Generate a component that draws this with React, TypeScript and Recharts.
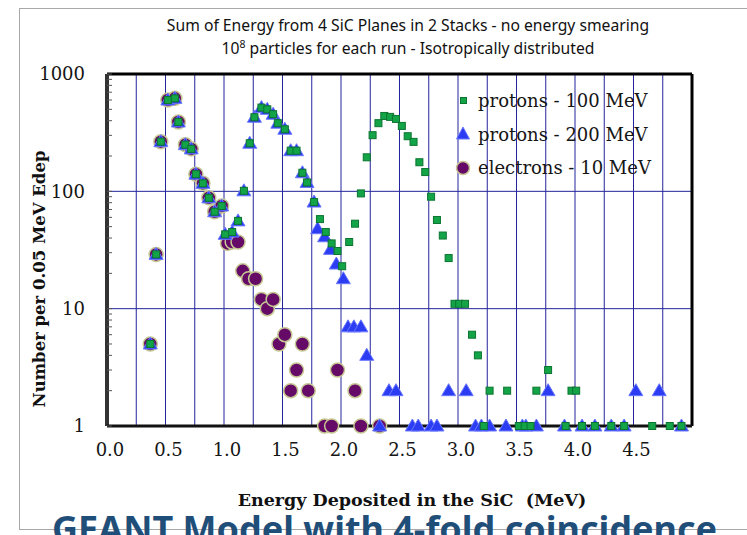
import React from 'react';
import { ScatterChart, Scatter, XAxis, YAxis, CartesianGrid, ReferenceLine, Legend } from 'recharts';

// ---- data (energy in MeV, counts per 0.05 MeV) ----
const protons100X = [0.37, 0.42, 0.46, 0.52, 0.58, 0.61, 0.67, 0.72, 0.76, 0.82, 0.87, 0.92, 0.98,
  1.01, 1.07, 1.12, 1.17, 1.22, 1.26, 1.32, 1.37, 1.42, 1.46, 1.52, 1.57, 1.62, 1.67, 1.71, 1.77,
  1.82, 1.87, 1.92, 1.97, 2.01, 2.07, 2.12, 2.17, 2.22, 2.27, 2.32, 2.37, 2.42, 2.47, 2.52,
  2.57, 2.62, 2.67, 2.72, 2.77, 2.82, 2.87, 2.92, 2.97, 3.01, 3.06, 3.12, 3.17, 3.22, 3.27, 3.42,
  3.52, 3.57, 3.62, 3.67, 3.77, 3.92, 3.97, 4.01, 4.06, 4.17, 4.31, 4.42, 4.66, 4.81, 4.91];
const protons100Y = [5, 29, 265, 600, 620, 390, 250, 230, 140, 117, 88, 67, 75,
  43, 45, 56, 101, 257, 428, 517, 500, 454, 381, 338, 222, 222, 144, 119, 81,
  58, 45, 36, 31, 23, 37, 53, 96, 195, 301, 381, 439, 431, 414, 361,
  295, 264, 177, 146, 90, 57, 42, 27, 11, 11, 11, 6, 4, 1, 2, 2,
  1, 1, 1, 2, 3, 1, 2, 2, 1, 1, 1, 1, 1, 1, 1];

const protons200X = [0.37, 0.42, 0.46, 0.52, 0.58, 0.61, 0.67, 0.72, 0.76, 0.82, 0.87, 0.92, 0.98,
  1.01, 1.07, 1.12, 1.17, 1.22, 1.26, 1.32, 1.37, 1.42, 1.46, 1.52, 1.57, 1.62, 1.67, 1.71, 1.77,
  1.80, 1.86, 1.91, 1.96, 2.02, 2.06, 2.11, 2.17, 2.22, 2.33, 2.41, 2.47, 2.61, 2.66, 2.77, 2.82,
  2.92, 3.07, 3.15, 3.20, 3.27, 3.41, 3.55, 3.58, 3.67, 3.77, 3.91, 4.06, 4.17, 4.31, 4.42,
  4.52, 4.72, 4.91];
const protons200Y = [5, 29, 265, 600, 620, 390, 250, 230, 140, 117, 88, 67, 75,
  43, 45, 56, 101, 257, 428, 517, 500, 454, 381, 338, 222, 222, 144, 119, 81,
  48, 41, 32, 24, 18, 7, 7, 7, 4, 1, 2, 2, 1, 1, 1, 1,
  2, 2, 1, 1, 1, 1, 1, 1, 1, 2, 1, 1, 1, 1, 1,
  2, 2, 1];

const electronsX = [0.37, 0.42, 0.46, 0.52, 0.58, 0.61, 0.67, 0.72, 0.76, 0.82, 0.87, 0.92, 0.98,
  1.03, 1.07, 1.12, 1.16, 1.21, 1.27, 1.32, 1.37, 1.42, 1.47, 1.52, 1.57, 1.62, 1.67, 1.72,
  1.86, 1.92, 1.97, 2.12, 2.17, 2.33];
const electronsY = [5, 29, 265, 600, 620, 390, 250, 230, 140, 117, 88, 67, 75,
  36, 37, 37, 21, 18, 18, 12, 10, 12, 5, 6, 2, 3, 5, 2,
  1, 1, 3, 2, 1, 1];

const seriesNames = ['protons - 100 MeV', 'protons - 200 MeV', 'electrons - 10 MeV'];
const xTicks = [0, 0.5, 1, 1.5, 2, 2.5, 3, 3.5, 4, 4.5];
const xGrid = [0.25, 0.5, 0.75, 1, 1.25, 1.5, 1.75, 2, 2.25, 2.5, 2.75, 3, 3.25, 3.5, 3.75, 4, 4.25, 4.5, 4.75];
const yMajor = [1, 10, 100, 1000];
const yTicks = [1, 2, 3, 4, 5, 6, 7, 8, 9, 10, 20, 30, 40, 50, 60, 70, 80, 90, 100, 200, 300, 400, 500, 600, 700, 800, 900, 1000];
const yGrid = [10, 100];

const toPoints = (xs: number[], ys: number[]) => xs.map((x, i) => ({ x, y: ys[i] }));
const p100Data = toPoints(protons100X, protons100Y);
const p200Data = toPoints(protons200X, protons200Y);
const eData = toPoints(electronsX, electronsY);

const SERIF = '"DejaVu Serif", serif';
const SANS = '"Noto Sans", "Open Sans", sans-serif';
const GRID = '#24249c';

const Square = (p: any) => (
  <rect x={p.cx - 3.5} y={p.cy - 3.5} width={7} height={7} fill="#14a448" stroke="#0b7530" strokeWidth={1} />
);
const Triangle = (p: any) => (
  <polygon points={`${p.cx},${p.cy - 7} ${p.cx + 7},${p.cy + 5} ${p.cx - 7},${p.cy + 5}`} fill="#2c3cf2" stroke="#6a78ff" strokeWidth={1} />
);
const Circle = (p: any) => (
  <circle cx={p.cx} cy={p.cy} r={7} fill="#650a66" stroke="#c6c894" strokeWidth={1.5} />
);

const legendMarkers = [
  <rect key="s" x={7.5} y={6.5} width={6} height={6} fill="#14a448" stroke="#0b7530" strokeWidth={1} />,
  <polygon key="t" points="10,3 16.5,15 3.5,15" fill="#2c3cf2" stroke="#6a78ff" strokeWidth={1} />,
  <circle key="c" cx={10} cy={10} r={6.5} fill="#650a66" stroke="#c6c894" strokeWidth={1.5} />,
];

const renderLegend = () => (
  <div style={{ fontFamily: SERIF, fontSize: 18, color: '#151515' }}>
    {seriesNames.map((name, i) => (
      <div key={name} style={{ display: 'flex', alignItems: 'center', height: 33.5, whiteSpace: 'nowrap' }}>
        <svg width={20} height={20} style={{ display: 'block' }}>{legendMarkers[i]}</svg>
        <span style={{ marginLeft: 5 }}>{name}</span>
      </div>
    ))}
  </div>
);

const YTick = (props: any) => {
  const { x, y, payload } = props;
  const v = payload.value;
  const major = yMajor.includes(v);
  return (
    <g>
      <line x1={x} x2={x + 5} y1={y} y2={y} stroke="#555" strokeWidth={1} />
      {major && (
        <text x={x - 22} y={y} dy="0.36em" textAnchor="end" fontFamily={SERIF} fontSize={18} fill="#151515">
          {v}
        </text>
      )}
    </g>
  );
};

const XTick = (props: any) => {
  const { x, y, payload } = props;
  return (
    <text x={x + 3} y={y + 24} dy="0.36em" textAnchor="middle" fontFamily={SERIF} fontSize={18} fill="#151515">
      {Number(payload.value).toFixed(1)}
    </text>
  );
};

export default function App() {
  return (
    <div style={{ position: 'absolute', left: 0, top: 0, width: 747, height: 535, overflow: 'hidden', background: '#fff' }}>
      <div style={{ position: 'absolute', left: 19, top: 8, width: 800, height: 522, border: '1px solid #a8a8a8', boxSizing: 'border-box' }} />
      <div style={{ position: 'absolute', left: 0, width: 816, top: 14, textAlign: 'center', fontFamily: SANS, fontSize: 15.7, color: '#111', lineHeight: '23px' }}>
        <div>Sum of Energy from 4 SiC Planes in 2 Stacks - no energy smearing</div>
        <div>10<sup style={{ fontSize: 10.5, verticalAlign: 'top', lineHeight: '14px' }}>8</sup> particles for each run - Isotropically distributed</div>
      </div>
      <ScatterChart width={747} height={535} margin={{ top: 74, right: 55, bottom: 79, left: 47 }} style={{ position: 'absolute', left: 0, top: 0 }}>
        <CartesianGrid horizontalValues={yGrid} verticalValues={xGrid} stroke={GRID} strokeWidth={1} />
        <XAxis type="number" dataKey="x" domain={[0, 5]} ticks={xTicks} interval={0} height={30}
          axisLine={false} tickLine={false} tickSize={0} tickMargin={0} tick={<XTick />} />
        <YAxis type="number" dataKey="y" scale="log" domain={[1, 1000]} ticks={yTicks} interval={0} width={60}
          axisLine={false} tickLine={false} tickSize={0} tickMargin={0} tick={<YTick />} />
        <ReferenceLine y={1000} stroke="#000" strokeWidth={3} />
        <ReferenceLine x={5} stroke="#000" strokeWidth={3} />
        <ReferenceLine x={0} stroke="#333" strokeWidth={4} />
        <ReferenceLine y={1} stroke="#111" strokeWidth={3} />
        <Scatter name={seriesNames[2]} data={eData} shape={Circle} isAnimationActive={false} />
        <Scatter name={seriesNames[1]} data={p200Data} shape={Triangle} isAnimationActive={false} />
        <Scatter name={seriesNames[0]} data={p100Data} shape={Square} isAnimationActive={false} />
        <Legend layout="vertical" align="center" verticalAlign="middle" content={renderLegend}
          wrapperStyle={{ left: 453, top: 84, width: 260, height: 110 }} />
      </ScatterChart>
      <div style={{ position: 'absolute', left: 40, top: 279, width: 0, height: 0 }}>
        <div style={{ position: 'absolute', left: -200, top: -12, width: 400, textAlign: 'center', transform: 'rotate(-90deg)',
          fontFamily: SERIF, fontWeight: 'bold', fontSize: 16.5, color: '#111', lineHeight: '24px', whiteSpace: 'nowrap' }}>
          Number per 0.05 MeV Edep
        </div>
      </div>
      <div style={{ position: 'absolute', left: 112, width: 600, top: 490, textAlign: 'center', fontFamily: SERIF, fontWeight: 'bold', fontSize: 17.5, color: '#111', lineHeight: '20px', whiteSpace: 'pre' }}>
        {'Energy Deposited in the SiC  (MeV)'}
      </div>
      <div style={{ position: 'absolute', left: 52, top: 516, fontFamily: SANS, fontWeight: 'bold', fontSize: 36, color: '#1f4e79', lineHeight: '26px', whiteSpace: 'nowrap' }}>
        GEANT Model with 4-fold coincidence
      </div>
    </div>
  );
}
